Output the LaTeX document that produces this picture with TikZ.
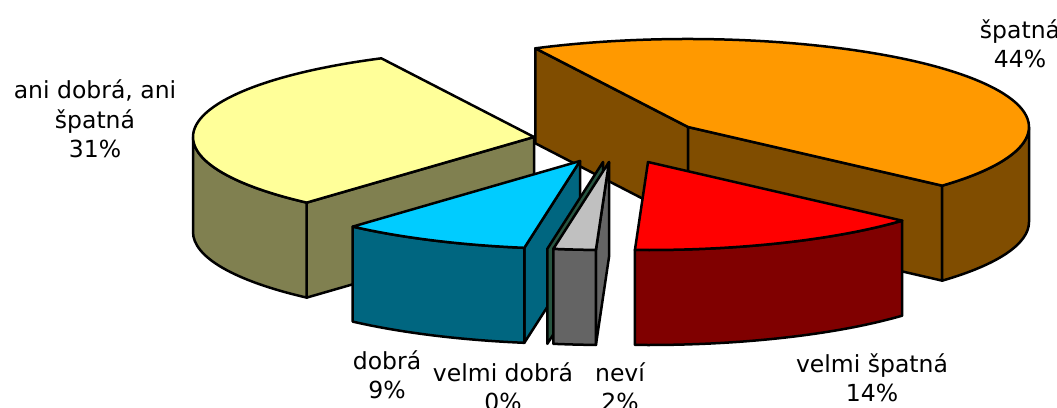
\documentclass[tikz,border=0pt]{standalone}
\usepackage{fontspec}
\setmainfont{DejaVu Sans}
\usetikzlibrary{calc}
\definecolor{spatnatop}{RGB}{255,153,0}
\definecolor{spatnaside}{RGB}{128,77,0}
\definecolor{anitop}{RGB}{255,255,153}
\definecolor{aniside}{RGB}{128,128,80}
\definecolor{velmispatnatop}{RGB}{255,0,0}
\definecolor{velmispatnaside}{RGB}{128,0,0}
\definecolor{dobratop}{RGB}{0,204,255}
\definecolor{dobraside}{RGB}{0,102,128}
\definecolor{velmidobraside}{RGB}{40,85,65}
\definecolor{nevitop}{RGB}{192,192,192}
\definecolor{neviside}{RGB}{100,100,100}
\newcommand{\pierx}{341}
\newcommand{\piery}{88}
\newcommand{\piedep}{95}
\tikzset{
  slice/.style={draw=black, line width=2.5pt, line join=round},
  lbl/.style={align=center, font=\fontsize{23.5}{29.5}\selectfont, inner sep=0pt},
  rim/.style={x radius=\pierx, y radius=\piery}
}

\begin{document}
\begin{tikzpicture}[x=1pt, y=-1pt]
    \useasboundingbox (0,0) rectangle (1057,407);
    % apexes of the exploded slices
    \coordinate (S) at (688,127);
    \coordinate (A) at (534,137);
    \coordinate (VS) at (648,162);
    \coordinate (D) at (580,161);
    \coordinate (VD) at (603,162);
    \coordinate (N) at (609,162);
    \foreach \p in {S,A,VS,D,VD,N} {\coordinate (\p b) at ($(\p)+(0,\piedep)$);}
    \coordinate (S1) at ($(S)+({\pierx*cos(-116.6)},{\piery*sin(-116.6)})$);
    \coordinate (S2) at ($(S)+({\pierx*cos(41.8)},{\piery*sin(41.8)})$);
    \coordinate (A1) at ($(A)+({\pierx*cos(131.8)},{\piery*sin(131.8)})$);
    \coordinate (VS1) at ($(VS)+({\pierx*cos(41.8)},{\piery*sin(41.8)})$);
    \coordinate (D1) at ($(D)+({\pierx*cos(99.4)},{\piery*sin(99.4)})$);
    \coordinate (VD1) at ($(VD)+({\pierx*cos(99.4)},{\piery*sin(99.4)})$);
    \coordinate (N1) at ($(N)+({\pierx*cos(92.2)},{\piery*sin(92.2)})$);

    % spatna
    \filldraw[slice, fill=spatnaside] (S) -- (S1) -- ++(0,\piedep) -- (Sb) -- cycle;
    \filldraw[slice, fill=spatnaside] (S) -- (S2) -- ++(0,\piedep) -- (Sb) -- cycle;
    \filldraw[slice, fill=spatnaside] ($(S)+(\pierx,0)$) arc[rim, start angle=0, end angle=41.8]
        -- ++(0,\piedep) arc[rim, start angle=41.8, end angle=0] -- cycle;
    \filldraw[slice, fill=spatnatop] (S) -- (S1) arc[rim, start angle=-116.6, end angle=41.8] -- cycle;

    % ani dobra, ani spatna
    \filldraw[slice, fill=aniside] (A) -- (A1) -- ++(0,\piedep) -- (Ab) -- cycle;
    \filldraw[slice, fill=aniside] ($(A)+(-\pierx,0)$) arc[rim, start angle=180, end angle=131.8]
        -- ++(0,\piedep) arc[rim, start angle=131.8, end angle=180] -- cycle;
    \filldraw[slice, fill=anitop] (A) -- (A1) arc[rim, start angle=131.8, end angle=243.4] -- cycle;

    % velmi spatna
    \filldraw[slice, fill=velmispatnaside] (VS1) arc[rim, start angle=41.8, end angle=92.2]
        -- ++(0,\piedep) arc[rim, start angle=92.2, end angle=41.8] -- cycle;
    \filldraw[slice, fill=velmispatnatop] (VS) -- (VS1) arc[rim, start angle=41.8, end angle=92.2] -- cycle;

    % dobra
    \filldraw[slice, fill=dobraside] (D) -- (D1) -- ++(0,\piedep) -- (Db) -- cycle;
    \filldraw[slice, fill=dobraside] (D1) arc[rim, start angle=99.4, end angle=131.8]
        -- ++(0,\piedep) arc[rim, start angle=131.8, end angle=99.4] -- cycle;
    \filldraw[slice, fill=dobratop] (D) -- (D1) arc[rim, start angle=99.4, end angle=131.8] -- cycle;

    % velmi dobra
    \filldraw[slice, fill=velmidobraside] (VD) -- (VD1) -- ++(0,\piedep) -- (VDb) -- cycle;

    % nevi
    \filldraw[slice, fill=neviside] (N) -- (N1) -- ++(0,\piedep) -- (Nb) -- cycle;
    \filldraw[slice, fill=neviside] (N1) arc[rim, start angle=92.2, end angle=99.4]
        -- ++(0,\piedep) arc[rim, start angle=99.4, end angle=92.2] -- cycle;
    \filldraw[slice, fill=nevitop] (N) -- (N1) arc[rim, start angle=92.2, end angle=99.4] -- cycle;

    \node[lbl] (lspatna) at (1020,44) {špatná\\44\%};
    \node[lbl] (lani) at (95,119) {ani dobrá, ani\\špatná\\31\%};
    \node[lbl] (ldobra) at (387,375) {dobrá\\9\%};
    \node[lbl] (lvelmidobra) at (503,387) {velmi dobrá\\0\%};
    \node[lbl] (lnevi) at (620,387) {neví\\2\%};
    \node[lbl] (lvelmispatna) at (872,378) {velmi špatná\\14\%};
\end{tikzpicture}
\end{document}
